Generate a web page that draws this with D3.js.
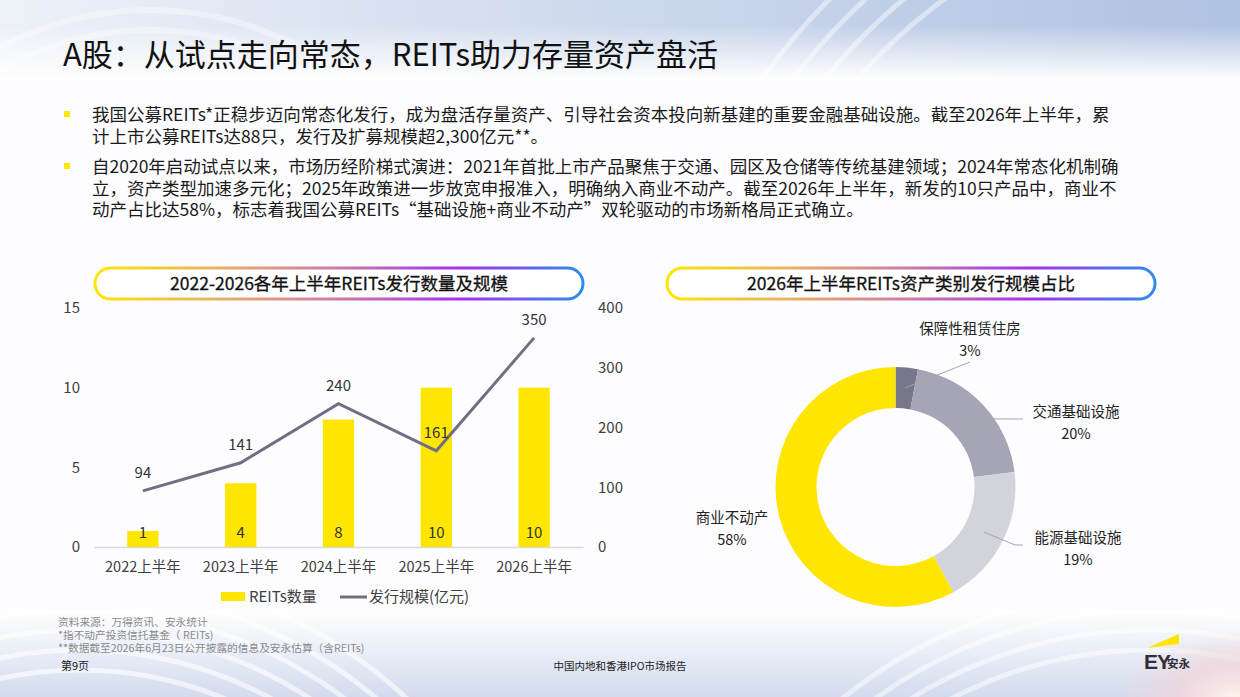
<!DOCTYPE html>
<html>
<head>
<meta charset="utf-8">
<script src="https://cdn.jsdelivr.net/npm/d3@7"></script>
<style>
  body { margin: 0; padding: 0; background: #fff; }
  svg { display: block; font-family: "Noto Sans CJK SC", "Noto Sans", sans-serif; }
</style>
</head>
<body>
<script>
// chart data
var years = ["2022上半年", "2023上半年", "2024上半年", "2025上半年", "2026上半年"];
var counts = [1, 4, 8, 10, 10];
var issueScale = [94, 141, 240, 161, 350];
var leftTicks = [0, 5, 10, 15];
var rightTicks = [0, 100, 200, 300, 400];
var legendNames = ["REITs数量", "发行规模(亿元)"];

var assetTypes = ["保障性租赁住房", "交通基础设施", "能源基础设施", "商业不动产"];
var assetShares = [3, 20, 19, 58];
var assetColors = ["#77768b", "#a6a5b5", "#d3d3db", "#ffe600"];

var bullets = [
  ["我国公募REITs*正稳步迈向常态化发行，成为盘活存量资产、引导社会资本投向新基建的重要金融基础设施。截至2026年上半年，累",
   "计上市公募REITs达88只，发行及扩募规模超2,300亿元**。"],
  ["自2020年启动试点以来，市场历经阶梯式演进：2021年首批上市产品聚焦于交通、园区及仓储等传统基建领域；2024年常态化机制确",
   "立，资产类型加速多元化；2025年政策进一步放宽申报准入，明确纳入商业不动产。截至2026年上半年，新发的10只产品中，商业不",
   "动产占比达58%，标志着我国公募REITs“基础设施+商业不动产”双轮驱动的市场新格局正式确立。"]
];
var notes = ["资料来源：万得资讯、安永统计", "*指不动产投资信托基金（ REITs)", "**数据截至2026年6月23日公开披露的信息及安永估算（含REITs)"];

var width = 1240, height = 697;
var svg = d3.select("body").append("svg")
    .attr("width", width)
    .attr("height", height);

var defs = svg.append("defs");

// background bands
var topGrad = defs.append("linearGradient").attr("id", "topGrad");
topGrad.append("stop").attr("offset", "0%").attr("stop-color", "#eef1f8");
topGrad.append("stop").attr("offset", "45%").attr("stop-color", "#d0dbee");
topGrad.append("stop").attr("offset", "100%").attr("stop-color", "#b0c2e2");
var fadeDown = defs.append("linearGradient").attr("id", "fadeDown")
    .attr("x1", 0).attr("y1", 0).attr("x2", 0).attr("y2", 1);
fadeDown.append("stop").attr("offset", "0%").attr("stop-color", "#fff").attr("stop-opacity", 0);
fadeDown.append("stop").attr("offset", "100%").attr("stop-color", "#fff").attr("stop-opacity", 1);
var botGrad = defs.append("linearGradient").attr("id", "botGrad")
    .attr("x1", 0).attr("y1", 0).attr("x2", 0).attr("y2", 1);
botGrad.append("stop").attr("offset", "0%").attr("stop-color", "#fff").attr("stop-opacity", 1);
botGrad.append("stop").attr("offset", "100%").attr("stop-color", "#d2dbee").attr("stop-opacity", 1);
var pink = defs.append("radialGradient").attr("id", "pink")
    .attr("cx", 0.5).attr("cy", 0.5).attr("r", 0.5);
pink.append("stop").attr("offset", "0%").attr("stop-color", "#fff3ea");
pink.append("stop").attr("offset", "50%").attr("stop-color", "#f1d6dd").attr("stop-opacity", 0.8);
pink.append("stop").attr("offset", "100%").attr("stop-color", "#f1d6dd").attr("stop-opacity", 0);

defs.append("clipPath").attr("id", "topClip").append("rect")
    .attr("x", 0).attr("y", 0).attr("width", width).attr("height", 80);
defs.append("clipPath").attr("id", "botClip").append("rect")
    .attr("x", 0).attr("y", 610).attr("width", width).attr("height", 90);

svg.append("rect").attr("width", width).attr("height", height).attr("fill", "#fdfdff");
svg.append("rect").attr("width", width).attr("height", 80).attr("fill", "url(#topGrad)");
var topArcs = svg.append("g").attr("clip-path", "url(#topClip)");
[520, 545, 570, 595].forEach(function(r) {
  topArcs.append("circle").attr("cx", 1250).attr("cy", 420).attr("r", r)
    .attr("fill", "none").attr("stroke", "#fff").attr("stroke-opacity", 0.45).attr("stroke-width", 5);
});
[300, 320].forEach(function(r) {
  topArcs.append("circle").attr("cx", 150).attr("cy", 330).attr("r", r)
    .attr("fill", "none").attr("stroke", "#fff").attr("stroke-opacity", 0.35).attr("stroke-width", 6);
});
svg.append("rect").attr("y", 25).attr("width", width).attr("height", 55).attr("fill", "url(#fadeDown)");

svg.append("rect").attr("y", 610).attr("width", width).attr("height", 87).attr("fill", "url(#botGrad)");
var botArcs = svg.append("g").attr("clip-path", "url(#botClip)");
[380, 400, 420, 440, 460, 480].forEach(function(r) {
  botArcs.append("circle").attr("cx", 80).attr("cy", 1050).attr("r", r)
    .attr("fill", "none").attr("stroke", "#fff").attr("stroke-opacity", 0.6).attr("stroke-width", 5);
});
[430, 450, 470, 490].forEach(function(r) {
  botArcs.append("circle").attr("cx", 1150).attr("cy", 1080).attr("r", r)
    .attr("fill", "none").attr("stroke", "#fff").attr("stroke-opacity", 0.5).attr("stroke-width", 5);
});
svg.append("ellipse").attr("cx", 1235).attr("cy", 700).attr("rx", 120).attr("ry", 70).attr("fill", "url(#pink)");

// title
svg.append("text")
    .attr("x", 63).attr("y", 66)
    .attr("font-size", "31px")
    .attr("fill", "#111")
    .text("A股：从试点走向常态，REITs助力存量资产盘活");

// bullet paragraphs
var bulletTop = [115, 167];
bullets.forEach(function(lines, i) {
  svg.append("rect")
    .attr("x", 64).attr("y", bulletTop[i] - 4)
    .attr("width", 6).attr("height", 6)
    .attr("fill", "#ffe600");
  var t = svg.append("text")
    .attr("font-size", "17.5px")
    .attr("fill", "#1a1a1a");
  lines.forEach(function(line, j) {
    t.append("tspan")
      .attr("x", 92)
      .attr("y", bulletTop[i] + j * 21.5)
      .attr("dy", "0.35em")
      .text(line);
  });
});

// gradient pill headers
var pillGrad = defs.append("linearGradient").attr("id", "pillGrad");
[["0%", "#ffe600"], ["25%", "#e8b163"], ["50%", "#cf78a8"], ["75%", "#a52ff0"], ["100%", "#2f8ceb"]]
  .forEach(function(s) {
    pillGrad.append("stop").attr("offset", s[0]).attr("stop-color", s[1]);
  });

function pill(x, w, label) {
  svg.append("rect")
    .attr("x", x).attr("y", 268)
    .attr("width", w).attr("height", 31)
    .attr("rx", 15.5)
    .attr("fill", "#fff")
    .attr("stroke", "url(#pillGrad)")
    .attr("stroke-width", 3);
  svg.append("text")
    .attr("x", x + w / 2).attr("y", 284)
    .attr("dy", "0.35em")
    .attr("text-anchor", "middle")
    .attr("font-size", "17.5px")
    .attr("fill", "#111")
    .attr("stroke", "#111")
    .attr("stroke-width", 0.3)
    .text(label);
}
pill(95, 488, "2022-2026各年上半年REITs发行数量及规模");
pill(667, 488, "2026年上半年REITs资产类别发行规模占比");

// bar + line chart
var x = d3.scaleBand().domain(years).range([94, 583]);
var yL = d3.scaleLinear().domain([0, 15]).range([547, 308]);
var yR = d3.scaleLinear().domain([0, 400]).range([547, 308]);
var barW = x.bandwidth() * 0.32;
var cx = function(d) { return x(d) + x.bandwidth() / 2; };

var gL = svg.append("g").attr("transform", "translate(80,0)")
    .call(d3.axisLeft(yL).tickValues(leftTicks).tickSize(0).tickPadding(0));
var gR = svg.append("g").attr("transform", "translate(598,0)")
    .call(d3.axisRight(yR).tickValues(rightTicks).tickSize(0).tickPadding(0));
[gL, gR].forEach(function(g) {
  g.select(".domain").remove();
  g.selectAll("text").attr("font-size", "15px").attr("fill", "#404040")
    .attr("font-family", "Noto Sans CJK SC");
});

var gX = svg.append("g").attr("transform", "translate(0,547)")
    .call(d3.axisBottom(x).tickSize(0).tickPadding(15));
gX.select(".domain").attr("stroke", "#d9d9d9").attr("stroke-width", 1.5);
gX.selectAll("text").attr("font-size", "14.5px").attr("fill", "#404040")
  .attr("font-family", "Noto Sans CJK SC");

svg.append("g").selectAll("rect")
  .data(counts)
  .join("rect")
    .attr("x", function(d, i) { return cx(years[i]) - barW / 2; })
    .attr("y", function(d) { return yL(d); })
    .attr("width", barW)
    .attr("height", function(d) { return yL(0) - yL(d); })
    .attr("fill", "#ffe600");

svg.append("g").selectAll("text")
  .data(counts)
  .join("text")
    .attr("x", function(d, i) { return cx(years[i]); })
    .attr("y", 533)
    .attr("dy", "0.35em")
    .attr("text-anchor", "middle")
    .attr("font-size", "15px")
    .attr("fill", "#333")
    .text(function(d) { return d; });

var line = d3.line()
    .x(function(d, i) { return cx(years[i]); })
    .y(function(d) { return yR(d); });
svg.append("path")
    .datum(issueScale)
    .attr("d", line)
    .attr("fill", "none")
    .attr("stroke", "#726f85")
    .attr("stroke-width", 3);

svg.append("g").selectAll("text")
  .data(issueScale)
  .join("text")
    .attr("x", function(d, i) { return cx(years[i]); })
    .attr("y", function(d) { return yR(d) - 18; })
    .attr("dy", "0.35em")
    .attr("text-anchor", "middle")
    .attr("font-size", "15px")
    .attr("fill", "#333")
    .text(function(d) { return d; });

// legend
var lg = svg.append("g");
lg.append("rect").attr("x", 221).attr("y", 592).attr("width", 24).attr("height", 9).attr("fill", "#ffe600");
lg.append("text").attr("x", 249).attr("y", 597).attr("dy", "0.35em")
  .attr("font-size", "15px").attr("fill", "#404040").text(legendNames[0]);
lg.append("line").attr("x1", 340).attr("x2", 367).attr("y1", 597).attr("y2", 597)
  .attr("stroke", "#726f85").attr("stroke-width", 3);
lg.append("text").attr("x", 369).attr("y", 597).attr("dy", "0.35em")
  .attr("font-size", "15px").attr("fill", "#404040").text(legendNames[1]);

// donut
var dcx = 895.5, dcy = 487, rOut = 120, rIn = 79;
var pie = d3.pie().sort(null).value(function(d) { return d; });
var arcs = pie(assetShares);
var arc = d3.arc().innerRadius(rIn).outerRadius(rOut);
var dg = svg.append("g").attr("transform", "translate(" + dcx + "," + dcy + ")");
dg.selectAll("path")
  .data(arcs)
  .join("path")
    .attr("d", arc)
    .attr("fill", function(d, i) { return assetColors[i]; });

// label placement (absolute page positions)
var labelPos = [[970, 329], [1076, 412], [1078, 538], [732, 518]];
var leaderEnd = [[[970, 362]], [[1023, 419]], [[1015, 545], [1023, 545]], null];
arcs.forEach(function(a, i) {
  if (leaderEnd[i]) {
    var c = arc.centroid(a);
    var pts = [[dcx + c[0], dcy + c[1]]].concat(leaderEnd[i]);
    svg.append("path")
      .attr("d", d3.line()(pts))
      .attr("fill", "none")
      .attr("stroke", "#a6a6a6")
      .attr("stroke-width", 1);
  }
  var t = svg.append("text")
    .attr("text-anchor", "middle")
    .attr("font-size", "14.5px")
    .attr("fill", "#222");
  t.append("tspan").attr("x", labelPos[i][0]).attr("y", labelPos[i][1]).attr("dy", "0.35em")
    .text(assetTypes[i]);
  t.append("tspan").attr("x", labelPos[i][0]).attr("y", labelPos[i][1] + 21.5).attr("dy", "0.35em")
    .text(assetShares[i] + "%");
});

// footnotes
notes.forEach(function(n, i) {
  svg.append("text")
    .attr("x", 58).attr("y", 622 + i * 13.3)
    .attr("dy", "0.35em")
    .attr("font-size", "10.7px")
    .attr("fill", "#8a8a8a")
    .text(n);
});
svg.append("text").attr("x", 61).attr("y", 666).attr("dy", "0.35em")
  .attr("font-size", "11px").attr("fill", "#222").text("第9页");
svg.append("text").attr("x", 620).attr("y", 666).attr("dy", "0.35em")
  .attr("text-anchor", "middle")
  .attr("font-size", "10.5px").attr("fill", "#222").text("中国内地和香港IPO市场报告");

// EY logo
svg.append("polygon")
  .attr("points", "1147,648 1179,634 1179,644")
  .attr("fill", "#ffe600");
svg.append("text").attr("x", 1144).attr("y", 669)
  .attr("font-size", "21px").attr("font-weight", "bold").attr("fill", "#2e2e38")
  .attr("letter-spacing", "-1px")
  .attr("font-family", "Liberation Sans")
  .text("EY");
svg.append("text").attr("x", 1167).attr("y", 668)
  .attr("font-size", "11.5px").attr("font-weight", "bold").attr("fill", "#2e2e38")
  .text("安永");
</script>
</body>
</html>
